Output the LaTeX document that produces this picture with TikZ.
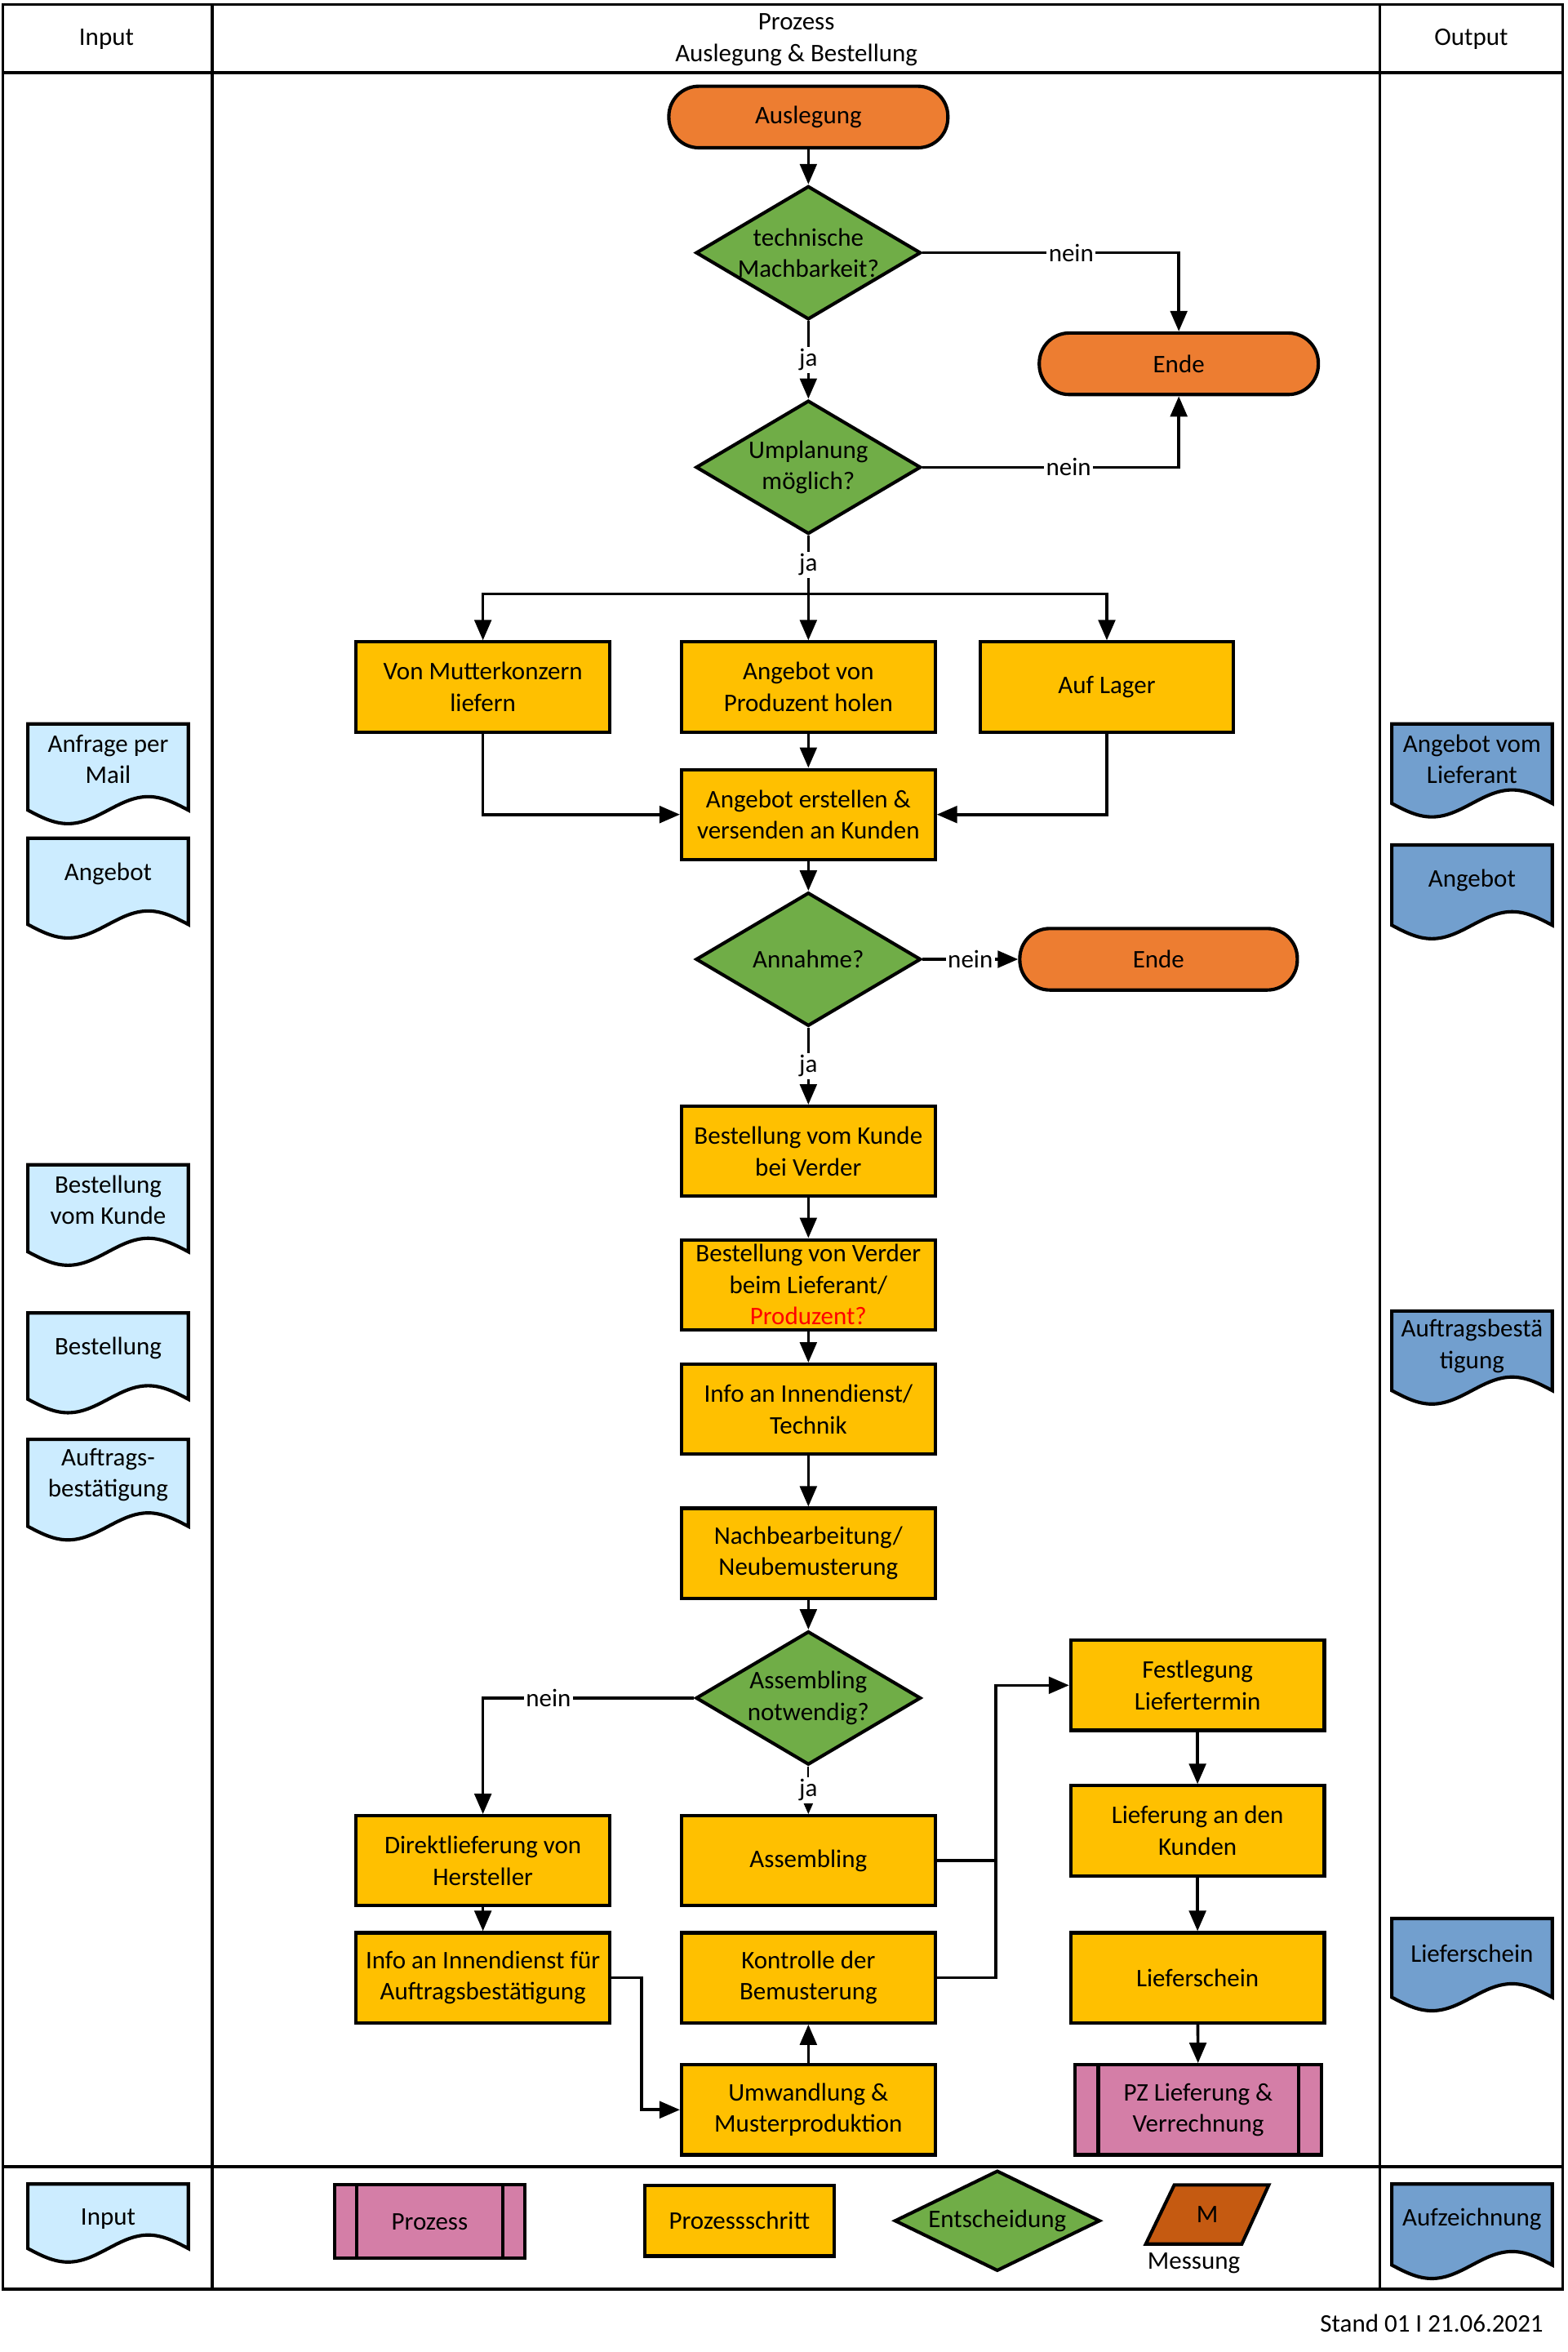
\documentclass[tikz,border=0pt]{standalone}
\usepackage{fontspec}
\setmainfont{Carlito}
\usetikzlibrary{shapes.geometric,arrows.meta}

\definecolor{termorange}{HTML}{ED7D31}
\definecolor{decgreen}{HTML}{70AD47}
\definecolor{stepyellow}{HTML}{FFC000}
\definecolor{procpink}{HTML}{D47EA7}
\definecolor{inblue}{HTML}{CCECFF}
\definecolor{outblue}{HTML}{729FCE}
\definecolor{messorange}{HTML}{C55A11}

\newcommand{\docnode}[6]{%
  \draw[docline, fill=#5] (#2,#3) -- ++(107,0) -- ++(0,#4)
    sin ++(-26.75,-9) cos ++(-26.75,9) sin ++(-26.75,9) cos ++(-26.75,-9) -- cycle;
  \node (#1) at (#2+53.5,#3+23.5) {#6};
}

\begin{document}
\begin{tikzpicture}[
    x=0.025cm, y=-0.025cm,
    every node/.style={font=\fontsize{12}{14.9}\selectfont, align=center},
    boxline/.style={draw, line width=1.6pt},
    stepbox/.style={boxline, rectangle, fill=stepyellow, minimum width=4.225cm, minimum height=1.5cm, inner sep=1pt},
    procbox/.style={stepbox, fill=procpink, minimum width=4.1cm},
    terminal/.style={boxline, rectangle, rounded corners=0.5cm, fill=termorange, minimum width=4.65cm, minimum height=1.025cm},
    decision/.style={boxline, diamond, aspect=1.7, fill=decgreen, minimum width=3.75cm, minimum height=2.225cm, inner sep=-0.2cm},
    docline/.style={line width=1.6pt},
    edgetext/.style={fill=white, inner sep=1pt},
    laneline/.style={line width=1.3pt},
    connector/.style={line width=1.4pt},
    arrow/.style={connector, -{Triangle[length=0.34cm, width=0.28cm]}},
    smallarrow/.style={line width=0.8pt, -{Triangle[length=0.2cm, width=0.17cm]}}
]

\useasboundingbox (0,0) rectangle (1045,1568);

\draw[laneline] (2,3) rectangle (1042,1526);
\draw[laneline] (2,48.5) -- (1042,48.5);
\draw[laneline] (2,1444.5) -- (1042,1444.5);
\draw[laneline] (141.5,3) -- (141.5,1526);
\draw[laneline] (920,3) -- (920,1526);

\node (hin) at (71,26) {Input};
\node (hproz) at (531,26.5) {Prozess\\Auslegung \& Bestellung};
\node (hout) at (981,26) {Output};

\node[terminal] (ausl) at (539,78) {Auslegung};
\node[decision] (tm) at (539,168.5) {technische\\Machbarkeit?};
\node[terminal] (ende1) at (786,242.5) {Ende};
\node[decision] (um) at (539,311.5) {Umplanung\\möglich?};
\coordinate (split) at (539,396);
\node[stepbox] (vmk) at (322,458) {Von Mutterkonzern\\liefern};
\node[stepbox] (apv) at (539,458) {Angebot von\\Produzent holen};
\node[stepbox] (lager) at (738,458) {Auf Lager};
\node[stepbox] (aev) at (539,543) {Angebot erstellen \&\\versenden an Kunden};
\node[decision] (ann) at (539,639.5) {Annahme?};
\node[terminal, minimum width=4.625cm] (ende2) at (772.5,639.5) {Ende};
\node[stepbox] (bvk) at (539,767.5) {Bestellung vom Kunde\\bei Verder};
\node[stepbox] (bvl) at (539,856.5) {Bestellung von Verder\\beim Lieferant/\\\textcolor{red}{Produzent?}};
\node[stepbox] (info) at (539,939.5) {Info an Innendienst/\\Technik};
\node[stepbox] (nach) at (539,1035.5) {Nachbearbeitung/\\Neubemusterung};
\node[decision] (asm) at (539,1132) {Assembling\\notwendig?};
\node[stepbox] (dl) at (322,1240.5) {Direktlieferung von\\Hersteller};
\node[stepbox] (assembling) at (539,1240.5) {Assembling};
\node[stepbox] (iai) at (322,1318.5) {Info an Innendienst für\\Auftragsbestätigung};
\node[stepbox] (kontr) at (539,1318.5) {Kontrolle der\\Bemusterung};
\node[stepbox] (uw) at (539,1406.5) {Umwandlung \&\\Musterproduktion};
\node[stepbox] (fest) at (798.5,1123.5) {Festlegung\\Liefertermin};
\node[stepbox] (lief) at (798.5,1220.5) {Lieferung an den\\Kunden};
\node[stepbox] (ls) at (798.5,1318.5) {Lieferschein};
\node[procbox] (pz) at (799,1406.5) {PZ Lieferung \&\\Verrechnung};
\coordinate (bus) at (664,1240.5);

\draw[boxline] ([xshift=0.41cm]pz.north west) -- ([xshift=0.41cm]pz.south west);
\draw[boxline] ([xshift=-0.41cm]pz.north east) -- ([xshift=-0.41cm]pz.south east);

\draw[arrow] (ausl) -- (tm);
\draw[arrow] (tm.east) -| node[edgetext, pos=0.29]{nein} (ende1.north);
\draw[arrow] (tm) -- node[edgetext]{ja} (um);
\draw[arrow] (um.east) -| node[edgetext, pos=0.285]{nein} (ende1.south);
\draw[connector] (um.south) -- node[edgetext]{ja} (split);
\draw[arrow] (split) -- (apv.north);
\draw[arrow] (split) -| (vmk.north);
\draw[arrow] (split) -| (lager.north);
\draw[arrow] (vmk.south) |- (aev.west);
\draw[arrow] (apv) -- (aev);
\draw[arrow] (lager.south) |- (aev.east);
\draw[arrow] (aev) -- (ann);
\draw[arrow] (ann) -- node[edgetext]{nein} (ende2);
\draw[arrow] (ann) -- node[edgetext]{ja} (bvk);
\draw[arrow] (bvk) -- (bvl);
\draw[arrow] (bvl) -- (info);
\draw[arrow] (info) -- (nach);
\draw[arrow] (nach) -- (asm);
\draw[arrow] (asm.west) -| node[edgetext, pos=0.345]{nein} (dl.north);
\draw[smallarrow] (asm) -- node[edgetext]{ja} (assembling);
\draw[arrow] (dl) -- (iai);
\draw[arrow] (iai.east) -- ++(20,0) |- (uw.west);
\draw[arrow] (uw) -- (kontr);
\draw[arrow] (assembling.east) -- (bus) |- (fest.west);
\draw[connector] (kontr.east) -| (bus);
\draw[arrow] (fest) -- (lief);
\draw[arrow] (lief) -- (ls);
\draw[arrow] (ls) -- (pz);

\docnode{inmail}{18.6}{482.6}{57.5}{inblue}{Anfrage per\\Mail}
\docnode{inang}{18.6}{558.8}{57.5}{inblue}{Angebot}
\docnode{inbvk}{18.6}{776.5}{58}{inblue}{Bestellung\\vom Kunde}
\docnode{inbest}{18.6}{875.3}{57.5}{inblue}{Bestellung}
\docnode{inab}{18.6}{959.6}{58}{inblue}{Auftrags-\\bestätigung}

\docnode{outavl}{928}{482.6}{53}{outblue}{Angebot vom\\Lieferant}
\docnode{outang}{928}{563.3}{53.5}{outblue}{Angebot}
\docnode{outab}{928}{874}{53}{outblue}{Auftragsbestä\\tigung}
\docnode{outls}{928}{1279}{52.5}{outblue}{Lieferschein}

\docnode{legin}{18.6}{1456}{43}{inblue}{Input}
\node[procbox, minimum width=3.175cm, minimum height=1.225cm] (legproc) at (286.5,1481) {Prozess};
\draw[boxline] ([xshift=0.4cm]legproc.north west) -- ([xshift=0.4cm]legproc.south west);
\draw[boxline] ([xshift=-0.4cm]legproc.north east) -- ([xshift=-0.4cm]legproc.south east);
\node[stepbox, minimum width=3.15cm, minimum height=1.175cm] (legstep) at (493,1480.5) {Prozessschritt};
\node[decision, aspect=2.05, minimum width=3.425cm, minimum height=1.675cm] (legdec) at (665,1480.5) {Entscheidung};
\draw[boxline, fill=messorange] (783,1456.6) -- (846,1456.6) -- (828,1496) -- (764,1496) -- cycle;
\node (legmess) at (805,1476.5) {M};
\node (legmesstext) at (796,1509) {Messung};
\docnode{legout}{928}{1456}{54}{outblue}{Aufzeichnung}

\node[anchor=east] (stand) at (1034,1549) {Stand 01 I 21.06.2021};

\end{tikzpicture}
\end{document}
